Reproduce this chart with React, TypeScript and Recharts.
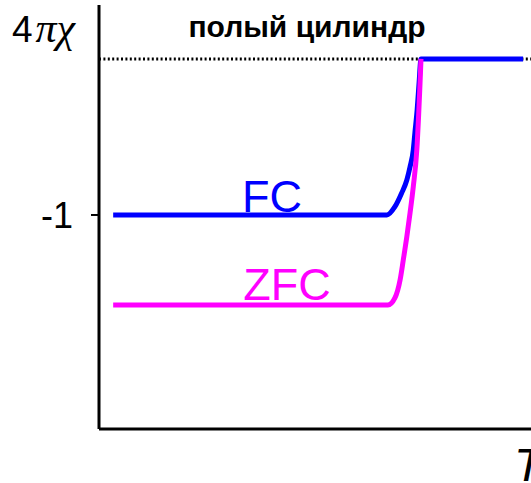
import { LineChart, Line, XAxis, YAxis, ReferenceLine, ReferenceDot } from "recharts";

// temperature in units of Tc, susceptibility 4πχ
const fcTemp = [0.044, 0.6, 0.894, 0.919, 0.94, 0.956, 0.966, 0.976, 0.981, 0.988, 0.994, 1.0, 1.317];
const fcChi = [-1, -1, -1, -0.947, -0.859, -0.776, -0.691, -0.583, -0.474, -0.327, -0.154, 0, 0];

const zfcTemp = [0.044, 0.6, 0.8975, 0.919, 0.935, 0.945, 0.956, 0.966, 0.976, 0.987, 0.997, 1.0];
const zfcChi = [-1.577, -1.577, -1.577, -1.532, -1.417, -1.288, -1.139, -0.987, -0.819, -0.583, -0.154, 0];

const yTicks = [-1];

const fcData = fcTemp.map((t, i) => ({ t, chi: fcChi[i] }));
const zfcData = zfcTemp.map((t, i) => ({ t, chi: zfcChi[i] }));

const FONT = "'Liberation Sans', Arial, sans-serif";

export default function App() {
  return (
    <div style={{ position: "absolute", left: 0, top: 0 }}>
      <LineChart width={531} height={483} margin={{ top: 5, right: 0, bottom: 0, left: 0 }}>
        <XAxis
          type="number"
          dataKey="t"
          domain={[0, 1.3416]}
          allowDataOverflow
          height={54}
          tick={false}
          tickLine={false}
          axisLine={{ stroke: "#000", strokeWidth: 3 }}
        />
        <YAxis
          type="number"
          dataKey="chi"
          domain={[-2.372, 0.346]}
          allowDataOverflow
          width={99}
          ticks={yTicks}
          tickSize={8}
          tickMargin={18}
          tickLine={{ stroke: "#000", strokeWidth: 2 }}
          axisLine={{ stroke: "#000", strokeWidth: 3 }}
          tick={{ fill: "#000", fontSize: 36, fontFamily: FONT }}
        />
        {/* dotted level of full screening */}
        <ReferenceLine y={0} stroke="#000" strokeWidth={3} strokeDasharray="2 2.4" />
        <Line
          data={fcData}
          dataKey="chi"
          type="monotone"
          stroke="#0000ff"
          strokeWidth={5}
          dot={false}
          isAnimationActive={false}
        />
        <Line
          data={zfcData}
          dataKey="chi"
          type="monotone"
          stroke="#ff00ff"
          strokeWidth={5}
          dot={false}
          isAnimationActive={false}
        />
        <ReferenceDot
          x={0.537}
          y={-0.878}
          r={0}
          label={{ value: "FC", position: "center", fill: "#0000ff", fontSize: 45, fontFamily: FONT }}
        />
        <ReferenceDot
          x={0.584}
          y={-1.442}
          r={0}
          label={{ value: "ZFC", position: "center", fill: "#ff00ff", fontSize: 45, fontFamily: FONT }}
        />
        <text x={307} y={37} textAnchor="middle" fontSize={30} fontWeight="bold" fontFamily={FONT} fill="#000">
          полый цилиндр
        </text>
        <text x={12} y={42} fontSize={37} fontFamily={FONT} fill="#000">
          4
          <tspan dx={3} fontFamily="'Liberation Serif', 'Times New Roman', serif" fontStyle="italic" fontSize={42}>
            πχ
          </tspan>
        </text>
        <text x={514} y={481} fontSize={47} fontStyle="italic" fontFamily={FONT} fill="#000">
          T
        </text>
      </LineChart>
    </div>
  );
}
